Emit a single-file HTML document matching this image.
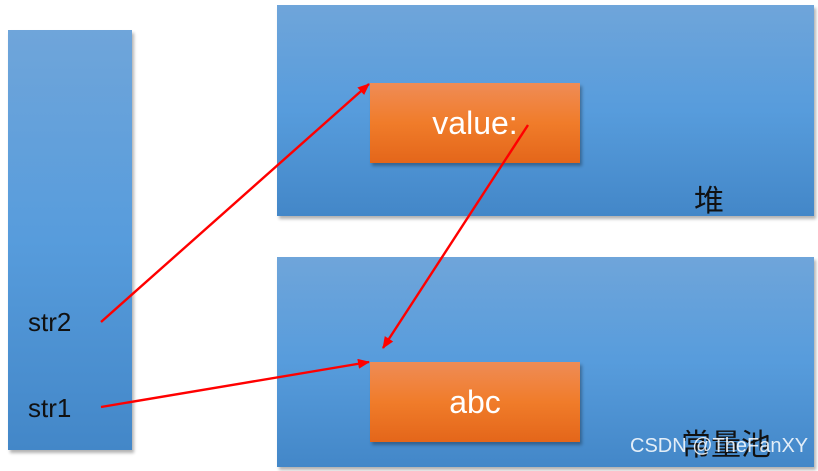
<!DOCTYPE html>
<html><head><meta charset="utf-8"><style>
body{margin:0;width:818px;height:471px;background:#fff;position:relative;overflow:hidden;font-family:"Liberation Sans","Noto Sans CJK SC",sans-serif}
.b{position:absolute;background:linear-gradient(#6fa5da,#579cdc 50%,#4387c8);box-shadow:2px 3px 3px rgba(0,0,0,.3)}
.o{position:absolute;background:linear-gradient(#ef8c56,#f07c2a 50%,#e4661a);box-shadow:2px 3px 3px rgba(0,0,0,.3);color:#fff;font-size:32px;display:flex;align-items:center;justify-content:center}
.t{position:absolute;color:#111;font-size:26px}
</style></head><body>
<div class="b" style="left:8px;top:30px;width:124px;height:420px"></div>
<div class="b" style="left:277px;top:5px;width:537px;height:211px"></div>
<div class="b" style="left:277px;top:257px;width:537px;height:210px"></div>
<div class="o" style="left:370px;top:83px;width:210px;height:80px">value:</div>
<div class="o" style="left:370px;top:362px;width:210px;height:80px">abc</div>
<div class="t" style="left:28px;top:307px">str2</div>
<div class="t" style="left:28px;top:393px">str1</div>
<div class="t" style="left:694px;top:176px;font-size:30px">堆</div>
<div class="t" style="left:681px;top:420px;font-size:30px">常量池</div>
<div style="position:absolute;left:630px;top:435px;color:rgba(255,255,255,.85);font-size:20px">CSDN @TheFanXY</div>
<svg width="818" height="471" style="position:absolute;left:0;top:0">
<defs><marker id="a" markerWidth="12" markerHeight="10" refX="11" refY="5" orient="auto" markerUnits="userSpaceOnUse"><path d="M0,0L12,5L0,10z" fill="#f00"/></marker></defs>
<g stroke="#f00" stroke-width="2.4" fill="none">
<line x1="101" y1="322" x2="369" y2="84" marker-end="url(#a)"/>
<line x1="528" y1="125" x2="383" y2="348" marker-end="url(#a)"/>
<line x1="101" y1="407" x2="369" y2="362" marker-end="url(#a)"/>
</g></svg>
</body></html>
